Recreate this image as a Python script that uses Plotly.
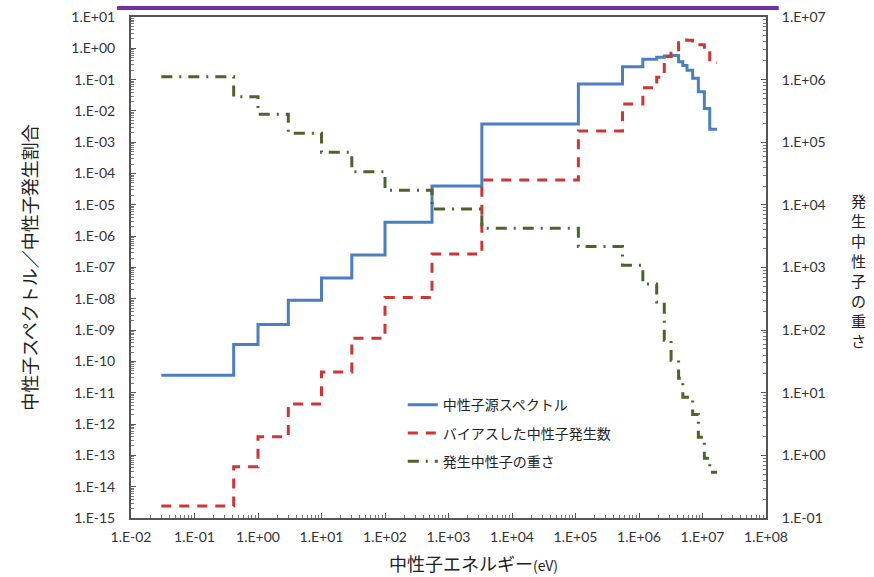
import plotly.graph_objects as go

# ---- data ----
energy_edges_ev = [0.03, 0.414, 1.0, 3.0, 10.0, 30.0, 100.0, 550.0, 3.35e3, 1.11e5,
                   5.5e5, 1.15e6, 1.9e6, 2.5e6, 3.2e6, 4.2e6, 4.9e6, 5.7e6, 7.0e6,
                   8.6e6, 1.07e7, 1.3e7, 1.7e7]
source_spectrum = [3.6e-11, 3.5e-10, 1.5e-9, 9e-9, 4.6e-8, 2.5e-7, 2.8e-6, 4.0e-5,
                   3.8e-3, 0.072, 0.26, 0.45, 0.52, 0.57, 0.59, 0.37, 0.28, 0.20,
                   0.11, 0.041, 0.012, 0.0026]
biased_rate = [2.4e-15, 4.3e-14, 3.9e-13, 4.4e-12, 4.6e-11, 5.5e-10, 1.1e-8, 2.7e-7,
               6.2e-5, 2.3e-3, 0.0166, 0.055, 0.12, 0.55, 0.7, 1.75, 1.85, 1.8,
               1.7, 1.3, 0.9, 0.35]
source_weight = [1.11e6, 5.33e5, 2.79e5, 1.39e5, 6.9e4, 3.38e4, 1.72e4, 8.57e3,
                 4.22e3, 2.16e3, 1.09e3, 543, 280, 69, 33, 17, 8.5, 8.5, 4.5,
                 1.95, 0.90, 0.54]

series_names = ["中性子源スペクトル", "バイアスした中性子発生数", "発生中性子の重さ"]

x_tick_labels = ["1.E-02", "1.E-01", "1.E+00", "1.E+01", "1.E+02", "1.E+03",
                 "1.E+04", "1.E+05", "1.E+06", "1.E+07", "1.E+08"]
y_left_tick_labels = ["1.E-15", "1.E-14", "1.E-13", "1.E-12", "1.E-11", "1.E-10",
                      "1.E-09", "1.E-08", "1.E-07", "1.E-06", "1.E-05", "1.E-04",
                      "1.E-03", "1.E-02", "1.E-01", "1.E+00", "1.E+01"]
y_right_tick_labels = ["1.E-01", "1.E+00", "1.E+01", "1.E+02", "1.E+03", "1.E+04",
                       "1.E+05", "1.E+06", "1.E+07"]

x_title_main = "中性子エネルギー"
x_title_unit = "(eV)"
y_left_title = "中性子スペクトル／中性子発生割合"
y_right_title = "発生中性子の重さ"

JP = "Noto Sans CJK JP"
TICKFONT = dict(family="Lato, Noto Sans CJK JP", size=14, color="#333333")
TITLE_COLOR = "#222222"

PLOT_LEFT, PLOT_W = 131, 635   # px, used only to place titles
PLOT_TOP, PLOT_H = 17, 501


def steps(vals):
    return list(vals) + [vals[-1]]


def decades(lo, hi):
    return [10.0 ** k for k in range(lo, hi + 1)]


def minors(lo, hi):
    out = []
    for k in range(lo, hi):
        for m in range(2, 10):
            out.append(m * 10.0 ** k)
    return out


def px_to_paper_x(px):
    return (px - PLOT_LEFT) / PLOT_W


def px_to_paper_y(py):
    return 1 - (py - PLOT_TOP) / PLOT_H


fig = go.Figure()
fig.add_trace(go.Scatter(
    x=energy_edges_ev, y=steps(source_spectrum), mode="lines", line_shape="hv",
    name=series_names[0], legendgroup="a",
    line=dict(color="#4a7fc1", width=3)))
fig.add_trace(go.Scatter(
    x=energy_edges_ev, y=steps(biased_rate), mode="lines", line_shape="hv",
    name=series_names[1], legendgroup="b",
    line=dict(color="#cf3535", width=3, dash="10px,8px")))
fig.add_trace(go.Scatter(
    x=energy_edges_ev, y=steps(source_weight), mode="lines", line_shape="hv",
    name=series_names[2], legendgroup="c", yaxis="y2",
    line=dict(color="#4f6228", width=3, dash="11px,7px,2px,7px")))

axis_line = dict(showline=True, linecolor="#555555", linewidth=2, showgrid=False,
                 zeroline=False, automargin=False)

annots = []
# vertical (upright-character) title on the right
for i, ch in enumerate(y_right_title):
    annots.append(dict(
        text=ch, xref="paper", yref="paper",
        x=px_to_paper_x(858), y=px_to_paper_y(200 + i * 20),
        xanchor="center", yanchor="middle", showarrow=False, borderpad=0,
        font=dict(family=JP, size=15, color=TITLE_COLOR)))
# x-axis title (sits right of the plot centre in the reference)
annots.append(dict(
    text=x_title_main + "<span style='font-size:14px'>" + x_title_unit + "</span>",
    xref="paper", yref="paper", x=px_to_paper_x(473), y=px_to_paper_y(563),
    xanchor="center", yanchor="middle", showarrow=False, borderpad=0,
    font=dict(family=JP, size=18, color=TITLE_COLOR)))

fig.update_layout(
    width=874, height=577,
    margin=dict(l=131, r=108, t=17, b=59, autoexpand=False),
    paper_bgcolor="white", plot_bgcolor="white",
    showlegend=True,
    legend=dict(x=0.428, y=0.257, xanchor="left", yanchor="top",
                bgcolor="rgba(0,0,0,0)", tracegroupgap=7,
                font=dict(family=JP, size=14, color=TITLE_COLOR)),
    xaxis=dict(type="log", range=[-2, 8], tickvals=decades(-2, 8),
               ticktext=x_tick_labels, ticks="inside", ticklen=5,
               tickcolor="#555555", mirror=True, tickfont=TICKFONT,
               ticklabelstandoff=5,
               minor=dict(tickvals=minors(-2, 8), ticks="inside", ticklen=3,
                          tickcolor="#777777"),
               **axis_line),
    yaxis=dict(type="log", range=[-15, 1], tickvals=decades(-15, 1),
               ticktext=y_left_tick_labels, ticks="inside", ticklen=5,
               tickcolor="#555555", mirror=True, tickfont=TICKFONT,
               ticklabelstandoff=11,
               minor=dict(tickvals=minors(-15, 1), ticks="inside", ticklen=3,
                          tickcolor="#777777"),
               title=dict(text=y_left_title, font=dict(family=JP, size=18, color=TITLE_COLOR),
                          standoff=29),
               **axis_line),
    yaxis2=dict(type="log", range=[-1, 7], overlaying="y", side="right",
                tickvals=decades(-1, 7), ticktext=y_right_tick_labels,
                ticks="inside", ticklen=5, tickcolor="#555555", tickfont=TICKFONT,
                ticklabelstandoff=11,
                minor=dict(tickvals=minors(-1, 7), ticks="inside", ticklen=3,
                           tickcolor="#777777"),
                **axis_line),
    annotations=annots,
    shapes=[dict(type="line", xref="paper", yref="paper",
                 x0=-0.022, x1=1.02, y0=1.018, y1=1.018,
                 line=dict(color="#7030a0", width=4))],
)

fig.write_html("out.html", config={"displayModeBar": False},
               post_script="document.body.style.margin='0';")
